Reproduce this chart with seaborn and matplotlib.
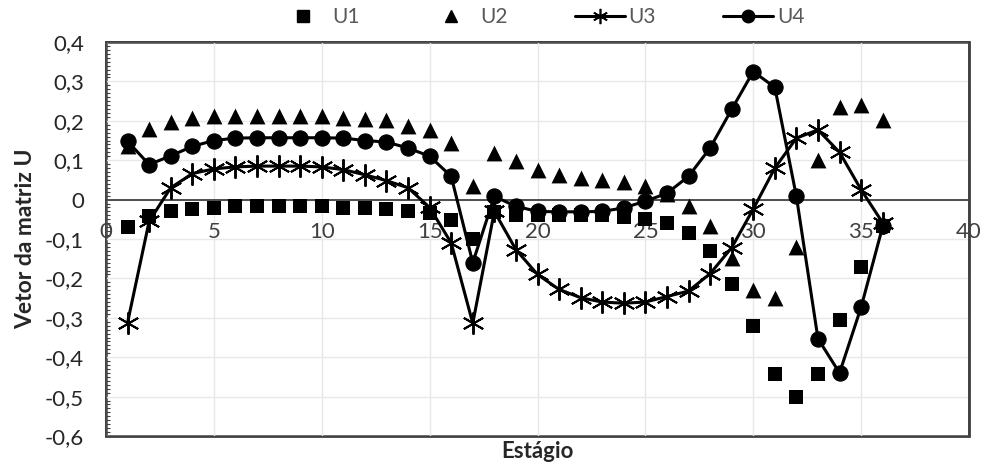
import matplotlib
matplotlib.use("Agg")
import matplotlib.pyplot as plt
from matplotlib.ticker import MultipleLocator, FuncFormatter
from matplotlib.lines import Line2D
import seaborn as sns
import pandas as pd

# stages 1..36
stage = list(range(1, 37))

u1 = [-0.069, -0.042, -0.030, -0.024, -0.021, -0.017, -0.017, -0.017, -0.017, -0.017,
      -0.021, -0.022, -0.023, -0.030, -0.034, -0.052, -0.100, -0.032, -0.038, -0.038,
      -0.038, -0.038, -0.038, -0.044, -0.049, -0.060, -0.086, -0.131, -0.213, -0.322,
      -0.443, -0.502, -0.443, -0.306, -0.170, -0.068]

u2 = [0.135, 0.179, 0.196, 0.207, 0.211, 0.212, 0.212, 0.212, 0.212, 0.212,
      0.208, 0.205, 0.201, 0.187, 0.176, 0.143, 0.035, 0.118, 0.099, 0.076,
      0.062, 0.055, 0.049, 0.044, 0.034, 0.015, -0.017, -0.068, -0.148, -0.230,
      -0.249, -0.121, 0.101, 0.235, 0.240, 0.201]

u3 = [-0.312, -0.055, 0.030, 0.066, 0.078, 0.083, 0.085, 0.085, 0.085, 0.083,
      0.076, 0.063, 0.048, 0.030, -0.020, -0.110, -0.314, -0.030, -0.127, -0.190,
      -0.228, -0.249, -0.260, -0.263, -0.260, -0.246, -0.232, -0.188, -0.122, -0.024,
      0.080, 0.156, 0.177, 0.120, 0.025, -0.059]

u4 = [0.148, 0.089, 0.111, 0.135, 0.150, 0.156, 0.157, 0.157, 0.157, 0.157,
      0.156, 0.150, 0.146, 0.131, 0.110, 0.059, -0.160, 0.008, -0.017, -0.030,
      -0.031, -0.031, -0.030, -0.021, -0.004, 0.016, 0.059, 0.131, 0.229, 0.325,
      0.285, 0.008, -0.353, -0.440, -0.273, -0.068]

df = pd.DataFrame({"stage": stage, "U1": u1, "U2": u2, "U3": u3, "U4": u4})

sns.set_style("white")
plt.rcParams["font.family"] = ["Lato", "DejaVu Sans"]

fig, ax = plt.subplots(figsize=(9.84, 4.66), dpi=100)
fig.subplots_adjust(left=106 / 984, right=969 / 984, top=1 - 42 / 466, bottom=1 - 436 / 466)

star = (6, 2, 0)

sns.scatterplot(data=df, x="stage", y="U1", marker="s", s=100, color="black",
                edgecolor="black", linewidth=0, ax=ax, zorder=3)
sns.scatterplot(data=df, x="stage", y="U2", marker="^", s=130, color="black",
                edgecolor="black", linewidth=0, ax=ax, zorder=3)
sns.lineplot(data=df, x="stage", y="U3", color="black", linewidth=2.2, marker=star,
             markersize=16, markeredgewidth=1.4, markeredgecolor="black", ax=ax, zorder=4)
sns.lineplot(data=df, x="stage", y="U4", color="black", linewidth=2.2, marker="o",
             markersize=11, markeredgecolor="black", ax=ax, zorder=5)

ax.set_xlim(0, 40)
ax.set_ylim(-0.6, 0.4)
ax.xaxis.set_major_locator(MultipleLocator(5))
ax.yaxis.set_major_locator(MultipleLocator(0.1))
ax.yaxis.set_minor_locator(MultipleLocator(0.01))
ax.yaxis.set_major_formatter(FuncFormatter(lambda v, p: ("%.1f" % v).replace(".", ",") if abs(v) > 1e-9 else "0"))

ax.grid(True, which="major", color="#e8e8e8", linewidth=1)
ax.set_axisbelow(True)

frame_color = "#404040"
for side in ["left", "right", "top"]:
    ax.spines[side].set_visible(True)
    ax.spines[side].set_color(frame_color)
    ax.spines[side].set_linewidth(1.3)
ax.spines["bottom"].set_position(("data", 0))
ax.spines["bottom"].set_color(frame_color)
ax.spines["bottom"].set_linewidth(1.3)
ax.patch.set_edgecolor(frame_color)
ax.patch.set_linewidth(2.0)

ax.tick_params(axis="x", length=0, labelsize=16, labelcolor="#404040", pad=16)
ax.tick_params(axis="y", which="major", direction="in", length=5, width=1, color=frame_color,
               labelsize=16, labelcolor="#262626", pad=16)
ax.tick_params(axis="y", which="minor", direction="in", length=3, width=0.8, color=frame_color, left=True)

ax.set_xlabel("Estágio", fontsize=16, fontweight="bold")
ax.xaxis.set_label_coords(0.5, -0.012)
ax.set_ylabel("Vetor da matriz U", fontsize=16.5, fontweight="bold", labelpad=6)

handles = [
    Line2D([], [], linestyle="", marker="s", markersize=8, color="black"),
    Line2D([], [], linestyle="", marker="^", markersize=9, color="black"),
    Line2D([], [], linestyle="-", linewidth=2.2, marker=star, markersize=11, markeredgewidth=1.2, color="black"),
    Line2D([], [], linestyle="-", linewidth=2.2, marker="o", markersize=9, color="black"),
]
leg = fig.legend(handles, ["U1", "U2", "U3", "U4"], loc="upper center", bbox_to_anchor=(0.55, 1.025),
                 ncol=4, frameon=False, fontsize=15, handlelength=2.4, columnspacing=3.2,
                 handletextpad=0.2)
for t in leg.get_texts():
    t.set_color("#595959")

fig.savefig("out.png", dpi=100)
